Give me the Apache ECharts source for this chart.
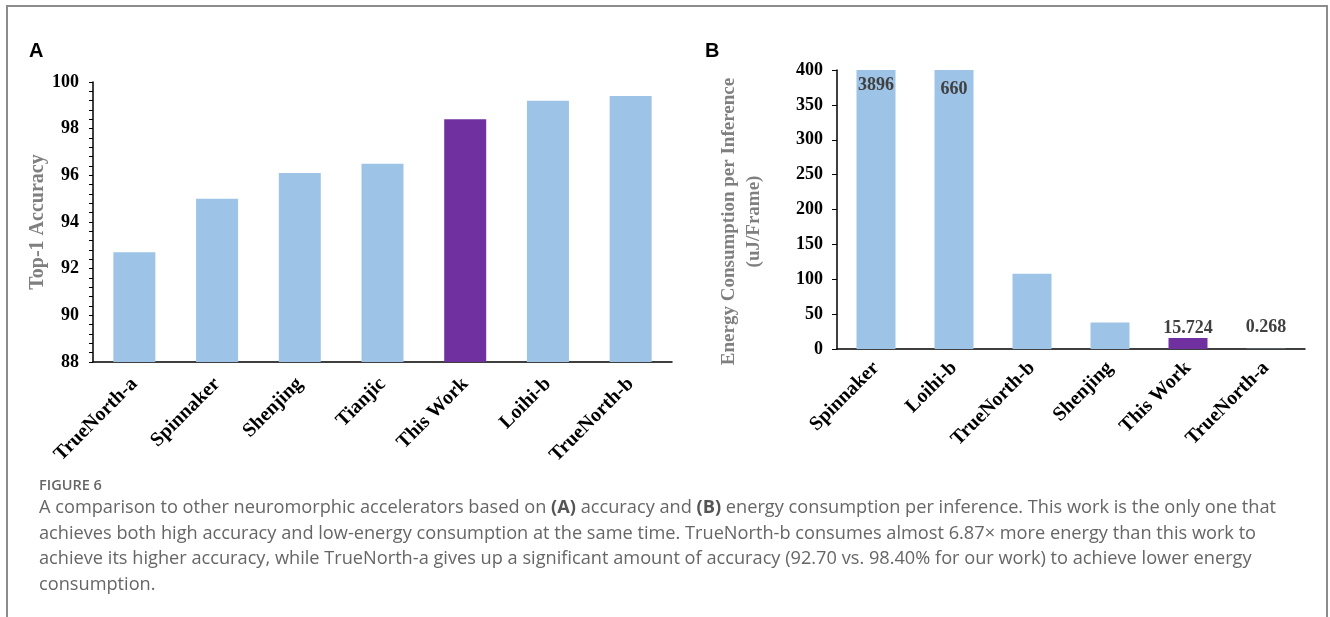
<!DOCTYPE html>
<html>
<head>
<meta charset="utf-8">
<script src="https://cdn.jsdelivr.net/npm/echarts@6/dist/echarts.min.js"></script>
<style>
html,body{margin:0;padding:0;background:#fff;}
#chart{width:1330px;height:617px;}
</style>
</head>
<body>
<div id="chart"></div>
<script>
// ---- Data ----
const categoriesA = ['TrueNorth-a', 'Spinnaker', 'Shenjing', 'Tianjic', 'This Work', 'Loihi-b', 'TrueNorth-b'];
const accuracyValues = [92.7, 95.0, 96.1, 96.5, 98.4, 99.2, 99.4];
const categoriesB = ['Spinnaker', 'Loihi-b', 'TrueNorth-b', 'Shenjing', 'This Work', 'TrueNorth-a'];
const energyValues = [3896, 660, 108, 38, 15.724, 0.268];
const labelledEnergy = ['Spinnaker', 'Loihi-b', 'This Work', 'TrueNorth-a'];
const highlightCategory = 'This Work';
const accuracyAxis = { min: 88, max: 100, interval: 2 };
const energyAxis = { min: 0, max: 400, interval: 50 };
const captionTitle = 'FIGURE 6';
const captionLines = [
  'A comparison to other neuromorphic accelerators based on {b|(A)} accuracy and {b|(B)} energy consumption per inference. This work is the only one that',
  'achieves both high accuracy and low-energy consumption at the same time. TrueNorth-b consumes almost 6.87\u00d7 more energy than this work to',
  'achieve its higher accuracy, while TrueNorth-a gives up a significant amount of accuracy (92.70 vs. 98.40% for our work) to achieve lower energy',
  'consumption.'
];

// ---- Styles ----
const BLUE = '#9dc3e6';
const PURPLE = '#7030a0';
const SERIF = '"Liberation Serif", "Times New Roman", serif';
const SANS = '"Liberation Sans", Arial, sans-serif';
const CAPFONT = '"Open Sans", "Noto Sans", sans-serif';

const chart = echarts.init(document.getElementById('chart'), null, { renderer: 'canvas' });

const dataA = accuracyValues.map((v, i) => ({
  value: v,
  itemStyle: { color: categoriesA[i] === highlightCategory ? PURPLE : BLUE }
}));

const dataB = energyValues.map((v, i) => {
  const clipped = v > energyAxis.max;
  const show = labelledEnergy.indexOf(categoriesB[i]) >= 0;
  return {
    value: Math.min(v, energyAxis.max),
    realValue: v,
    itemStyle: { color: categoriesB[i] === highlightCategory ? PURPLE : BLUE },
    label: clipped
      ? { show: show, position: 'insideTop', distance: i === 0 ? 6 : 10 }
      : { show: show, position: 'top', distance: v < 1 ? 12 : 1 }
  };
});

const catLabelStyle = { fontFamily: SERIF, fontWeight: 'bold', fontSize: 20, color: '#000' };
const valLabelStyle = { fontFamily: SERIF, fontWeight: 'bold', fontSize: 18, color: '#000' };
const nameStyle = { fontFamily: SERIF, fontWeight: 'bold', color: '#7f7f7f' };

const option = {
  animation: false,
  grid: [
    { left: 93, top: 82, width: 579, height: 280 },
    { left: 837, top: 70, width: 468, height: 279 }
  ],
  xAxis: [
    {
      gridIndex: 0, type: 'category', data: categoriesA,
      axisLine: { lineStyle: { color: '#000', width: 1.5 } },
      axisTick: { show: false },
      axisLabel: Object.assign({ rotate: 45, margin: 19, interval: 0 }, catLabelStyle)
    },
    {
      gridIndex: 1, type: 'category', data: categoriesB,
      axisLine: { lineStyle: { color: '#000', width: 1.5 } },
      axisTick: { show: false },
      axisLabel: Object.assign({ rotate: 45, margin: 16, interval: 0 }, catLabelStyle)
    }
  ],
  yAxis: [
    {
      gridIndex: 0, type: 'value',
      min: accuracyAxis.min, max: accuracyAxis.max, interval: accuracyAxis.interval,
      name: 'Top-1 Accuracy', nameLocation: 'middle', nameRotate: 90, nameGap: 45,
      nameTextStyle: Object.assign({ fontSize: 20 }, nameStyle),
      axisLine: { show: true, lineStyle: { color: '#000', width: 1.5 } },
      axisTick: { show: true, length: 4, lineStyle: { color: '#000', width: 1 } },
      minorTick: { show: true, splitNumber: 5, length: 4, lineStyle: { color: '#000', width: 1 } },
      splitLine: { show: false },
      axisLabel: Object.assign({ margin: 14 }, valLabelStyle)
    },
    {
      gridIndex: 1, type: 'value',
      min: energyAxis.min, max: energyAxis.max, interval: energyAxis.interval,
      name: 'Energy Consumption per Inference\n(uJ/Frame)', nameLocation: 'middle', nameRotate: 90, nameGap: 70,
      nameTextStyle: Object.assign({ fontSize: 19, lineHeight: 25, padding: [0, 24, 0, 0] }, nameStyle),
      axisLine: { show: true, lineStyle: { color: '#000', width: 1.5 } },
      axisTick: { show: true, length: 5, lineStyle: { color: '#000', width: 1 } },
      splitLine: { show: false },
      axisLabel: Object.assign({ margin: 14 }, valLabelStyle)
    }
  ],
  series: [
    {
      type: 'bar', xAxisIndex: 0, yAxisIndex: 0, data: dataA, barWidth: 42
    },
    {
      type: 'bar', xAxisIndex: 1, yAxisIndex: 1, data: dataB, barWidth: 39,
      label: {
        show: true,
        fontFamily: SERIF, fontWeight: 'bold', fontSize: 18, color: '#404040',
        formatter: p => String(p.data.realValue)
      }
    }
  ],
  graphic: [
    { type: 'rect', shape: { x: 7, y: 6, width: 1320, height: 700 }, style: { fill: 'none', stroke: '#8c8c8c', lineWidth: 2 }, silent: true },
    { type: 'text', left: 29, top: 41, style: { text: 'A', font: 'bold 20px ' + SANS, fill: '#000' } },
    { type: 'text', left: 705, top: 41, style: { text: 'B', font: 'bold 20px ' + SANS, fill: '#000' } },
    { type: 'text', left: 39, top: 478, style: { text: captionTitle, font: '600 14.5px ' + CAPFONT, fill: '#666' } },
  ].concat(captionLines.map((line, i) => ({
    type: 'text', left: 39, top: 499 + i * 25.5,
    style: {
      text: line, font: '18.2px ' + CAPFONT, fill: '#666',
      rich: { b: { fontFamily: CAPFONT, fontSize: 18.2, fontWeight: 'bold', fill: '#555' } }
    }
  })))
};

chart.setOption(option);
</script>
</body>
</html>
